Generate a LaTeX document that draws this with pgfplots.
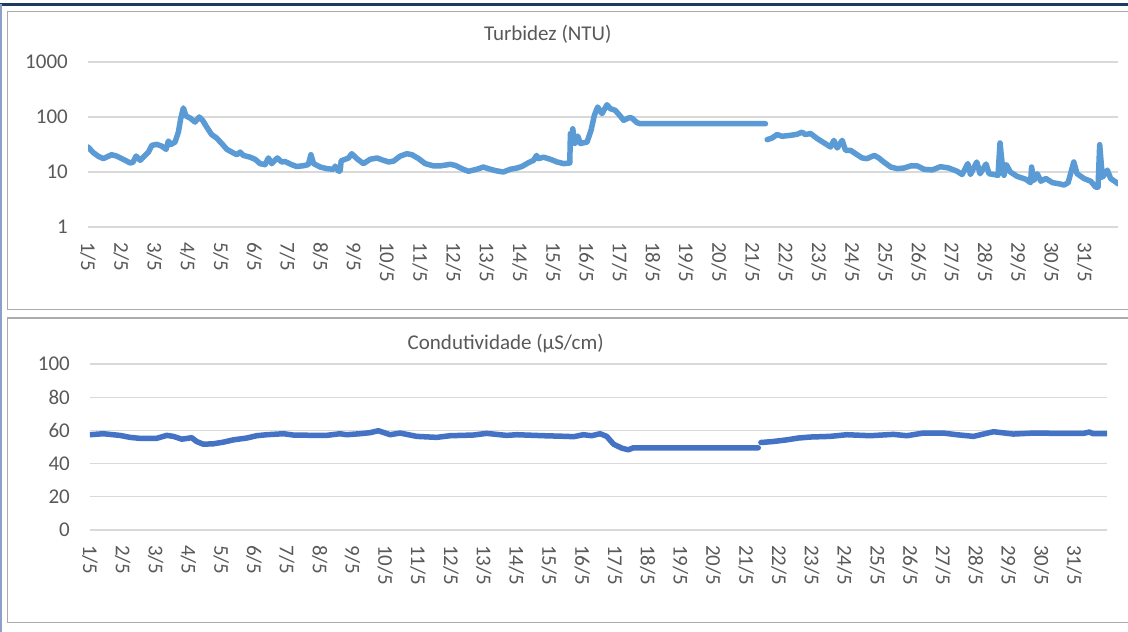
\documentclass[border=0pt]{standalone}
\usepackage{fontspec}
\setmainfont{Carlito}
\usepackage{pgfplots}
\pgfplotsset{compat=1.18}
\definecolor{tickgray}{HTML}{595959}
\definecolor{gridgray}{HTML}{D9D9D9}
\definecolor{panelgray}{HTML}{ABABAB}
\definecolor{navyline}{HTML}{1F3864}
\definecolor{leftblue}{HTML}{8EA0C8}
\definecolor{turbblue}{HTML}{5B9BD5}
\definecolor{condblue}{HTML}{4472C4}
\newcommand{\fs}{\fontsize{21pt}{25pt}\selectfont}
\pgfplotsset{
  exstyle/.style={
    scale only axis,
    anchor=south west,
    axis line style={draw=none},
    tick style={draw=none},
    ymajorgrids=true,
    xmajorgrids=false,
    grid style={gridgray, line width=1.3pt},
    xmin=1, xmax=32,
    xtick={1,2,...,31},
    xticklabels={1/5,2/5,3/5,4/5,5/5,6/5,7/5,8/5,9/5,10/5,11/5,12/5,13/5,14/5,15/5,16/5,17/5,18/5,19/5,20/5,21/5,22/5,23/5,24/5,25/5,26/5,27/5,28/5,29/5,30/5,31/5},
    x tick label style={font=\fs, text=tickgray, inner sep=0pt, yshift=-15pt, rotate=-90, anchor=west},
    y tick label style={font=\fs, text=tickgray, inner sep=0pt, xshift=-20pt, anchor=east},
    /pgf/number format/assume math mode=true,
  },
  serie/.style={line width=5.5pt, line join=round, line cap=round, no markers}
}
\begin{document}
\begin{tikzpicture}
\useasboundingbox (0pt,0pt) rectangle (1128pt,632pt);
\fill[white] (0pt,0pt) rectangle (1128pt,632pt);
\begin{scope}
\clip (0pt,0pt) rectangle (1128pt,632pt);
\draw[panelgray, line width=1.6pt] (7.5pt,620.5pt) rectangle (1140pt,322.5pt);
\draw[panelgray, line width=1.6pt] (7.5pt,314pt) rectangle (1140pt,9.5pt);
\draw[navyline, line width=2.4pt] (0pt,627.5pt) -- (1140pt,627.5pt);
\draw[leftblue, line width=1.7pt] (1pt,628pt) -- (1pt,-5pt);
\end{scope}

\begin{axis}[exstyle, at={(88pt,405pt)}, width=1030pt, height=165pt,
  ymode=log, ymin=1, ymax=1000, ytick={1,10,100,1000}, yticklabels={1,10,100,1000}]
\addplot[serie, turbblue] coordinates {
(1.00,28.5) (1.16,22.5) (1.31,19.3) (1.46,17.5) (1.71,20.6) (1.86,19.5) (2.06,17) (2.27,14.6) (2.35,15)
(2.45,19.5) (2.57,16.3) (2.72,20) (2.82,23) (2.92,30.5) (3.07,31.8) (3.22,29.5) (3.35,25.8) (3.42,36.6)
(3.49,31.5) (3.62,35) (3.72,53) (3.79,93) (3.87,146) (3.95,104) (4.07,96) (4.22,81) (4.35,100) (4.45,87)
(4.57,66) (4.72,48) (4.87,41.5) (5.03,32.7) (5.18,25.8) (5.33,23) (5.48,20.6) (5.58,23) (5.68,20) (5.88,18.6)
(6.03,17) (6.18,14.2) (6.33,13.6) (6.43,18) (6.53,14.2) (6.70,18) (6.83,15.2) (6.93,15.5) (7.13,13.6)
(7.28,12.6) (7.48,13) (7.63,13.6) (7.71,20.6) (7.79,14.2) (7.99,12.3) (8.19,11.5) (8.39,11.2) (8.44,12.8)
(8.54,10.3) (8.59,10.5) (8.62,16) (8.74,17) (8.84,18) (8.94,21.5) (9.09,17.5) (9.29,14.2) (9.49,17) (9.70,18)
(9.84,16.7) (10.05,15.2) (10.2,15.8) (10.4,19.5) (10.6,21.5) (10.75,20.6) (10.95,17.5) (11.15,14.2)
(11.4,12.9) (11.6,12.9) (11.9,13.8) (12.05,13.2) (12.25,11.5) (12.45,10.3) (12.7,11.2) (12.9,12.3)
(13.05,11.5) (13.26,10.6) (13.5,10) (13.71,11.2) (13.91,11.8) (14.06,12.6) (14.26,14.8) (14.41,16.3)
(14.5,20) (14.56,17.5) (14.71,18.6) (14.92,17) (15.12,15.2) (15.32,14.2) (15.5,14.6) (15.52,50) (15.56,40)
(15.59,61) (15.65,33) (15.74,45) (15.82,33) (16.02,35) (16.14,57) (16.24,107) (16.34,152) (16.47,115)
(16.62,167) (16.72,142) (16.87,132) (17.02,104) (17.12,87) (17.27,96) (17.37,96) (17.52,79) (17.62,75.6)
(21.39,75.6)
};
\addplot[serie, turbblue] coordinates {
(21.44,38.7) (21.59,41.5) (21.74,48) (21.89,44.6) (22.14,46.4) (22.34,48.5) (22.49,53) (22.59,48) (22.75,50)
(22.95,40.4) (23.15,34) (23.35,28.5) (23.45,37.6) (23.55,27.3) (23.7,37.6) (23.8,24.8) (23.95,24.8)
(24.15,20.6) (24.3,18) (24.45,17.5) (24.55,18.7) (24.67,20) (24.8,18) (24.95,15.2) (25.16,12.3) (25.36,11.5)
(25.56,11.8) (25.76,12.9) (25.96,12.9) (26.16,11.2) (26.41,10.9) (26.66,12.5) (26.91,11.8) (27.16,10.3)
(27.31,9) (27.48,14.2) (27.56,9) (27.75,15.2) (27.85,9.3) (28.03,14) (28.12,9.3) (28.27,9) (28.39,8.7)
(28.45,33.7) (28.52,13.2) (28.57,8.7) (28.64,13.6) (28.76,10) (28.97,8.3) (29.22,7.4) (29.37,6.4)
(29.40,12.3) (29.47,7) (29.57,9.3) (29.68,6.8) (29.83,7.6) (30.03,6.4) (30.23,6.1) (30.38,5.8) (30.5,6.4)
(30.67,15.2) (30.77,9.3) (30.98,7.6) (31.18,6.8) (31.33,5.3) (31.4,5.3) (31.45,31.4) (31.53,8) (31.68,10.8)
(31.78,7.6) (31.93,6.6) (32.0,6.1)
};
\end{axis}

\begin{axis}[exstyle, at={(90pt,102pt)}, width=1017pt, height=166pt,
  ymin=0, ymax=100, ytick={0,20,40,60,80,100}, yticklabels={0,20,40,60,80,100}]
\addplot[serie, condblue] coordinates {
(1,57.4) (1.4,58) (1.91,57) (2.22,55.8) (2.52,55.2) (3.03,55.2) (3.34,57) (3.54,56.4) (3.8,54.7) (4.1,55.6)
(4.25,53.3) (4.45,51.7) (4.75,51.9) (5.06,52.9) (5.37,54.3) (5.78,55.4) (6.08,56.8) (6.39,57.4) (6.9,58)
(7.2,57.2) (7.91,57) (8.21,57) (8.62,58) (8.82,57.4) (9.23,58) (9.53,58.6) (9.79,59.8) (10.15,57.4)
(10.45,58.4) (10.96,56.4) (11.57,55.8) (11.98,56.8) (12.68,57.2) (13.09,58.2) (13.7,57) (14.01,57.4)
(14.82,56.8) (15.53,56.4) (15.74,56.2) (16.04,57.4) (16.29,56.8) (16.55,58) (16.75,56.4) (16.96,51.7)
(17.21,49.3) (17.41,48.3) (17.56,49.5) (21.37,49.5)
};
\addplot[serie, condblue] coordinates {
(21.45,52.7) (21.82,53.3) (22.24,54.3) (22.59,55.4) (22.95,56) (23.56,56.4) (24.07,57.4) (24.78,56.8)
(25.49,57.6) (25.9,56.8) (26.4,58.4) (27.01,58.4) (27.42,57.4) (27.93,56.4) (28.54,59.2) (29.15,57.8)
(29.76,58.4) (30.57,58.2) (31.28,58.2) (31.46,59) (31.58,58) (32.0,58)
};
\end{axis}

\node[font=\fs, text=tickgray, anchor=base] at (547.8pt,591pt) {Turbidez (NTU)};
\node[font=\fs, text=tickgray, anchor=base] at (505.7pt,282pt) {Condutividade (µS/cm)};
\end{tikzpicture}
\end{document}
